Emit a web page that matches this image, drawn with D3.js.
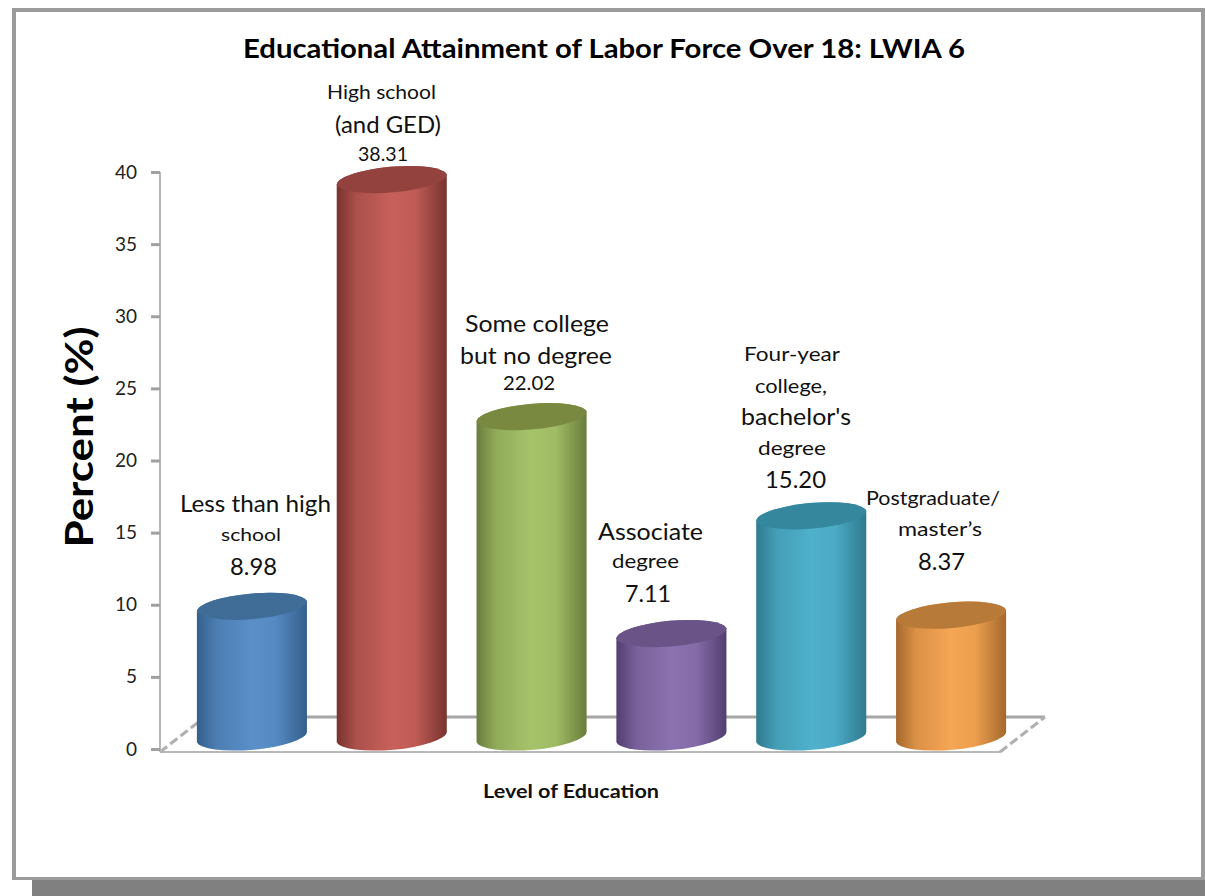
<!DOCTYPE html>
<html><head><meta charset="utf-8">
<style>html,body{margin:0;padding:0;background:#fff;overflow:hidden}svg{display:block}text{font-family:Lato,"Open Sans",sans-serif;fill:#111}</style>
<script src="https://cdn.jsdelivr.net/npm/d3@7"></script></head><body>
<svg id="c" width="1205" height="896"></svg>
<script>
const categories = ["Less than high school","High school (and GED)","Some college but no degree","Associate degree","Four-year college, bachelor's degree","Postgraduate/ master's"];
const values = [8.98,38.31,22.02,7.11,15.20,8.37];
const yTicks = [0,5,10,15,20,25,30,35,40];
const labelLines = [["Less than high","school"],["High school","(and GED)"],["Some college","but no degree"],["Associate","degree"],["Four-year","college,","bachelor's","degree"],["Postgraduate/","master’s"]];
const titleText = "Educational Attainment of Labor Force Over 18: LWIA 6";
const yTitle = "Percent (%)";
const xTitle = "Level of Education";
// layout: [center x, center y, font size, width] per text line; last entry of each group is the value label
const labelLayout = [
 [[255.5,503,23,151],[251,534,18,60],[253.5,565,24,47]],
 [[381.5,91,19,109],[388,124,23,106],[383,153,19,50]],
 [[537,322,24,144],[536,354,24,152],[529,382,19,52]],
 [[650.5,530,24,105],[645.5,560,19,67],[648,592,24,46]],
 [[792,353,19,96],[791,385,19,72],[796,415,24,110],[792,447,19,68],[795.5,478,24,61]],
 [[933,497,19,134],[940,528,19,84],[941.5,560,24,47]]
];
const palette = [
 {edge:"#345f8b",mid:"#5a8fc8",top:"#3f6d98"},
 {edge:"#78332f",mid:"#c8605a",top:"#94423e"},
 {edge:"#6a7d3c",mid:"#a6c36a",top:"#79893f"},
 {edge:"#523f70",mid:"#8c72b0",top:"#6a5487"},
 {edge:"#2f7a8e",mid:"#4fb1cc",top:"#35879d"},
 {edge:"#a5682c",mid:"#f6a654",top:"#b87a38"}
];
const svg = d3.select("#c");
const defs = svg.append("defs");
// frame and shadow
svg.append("rect").attr("x",32).attr("y",40).attr("width",1173).attr("height",856).attr("fill","#808080");
svg.append("rect").attr("x",12).attr("y",8).attr("width",1193).attr("height",872).attr("fill","#9b9b9b");
svg.append("rect").attr("x",16).attr("y",12).attr("width",1185).attr("height",865).attr("fill","#fff");

const y = d3.scaleLinear().domain([0,40]).range([749,172]);
const x = d3.scaleBand().domain(categories).range([182,1021]).paddingInner(0.213).paddingOuter(0.1065);
const barH = d3.scaleLinear().domain([0,40]).range([0,582]);
const baseY = 737, tilt = 5, ry = 13.5;

// floor
const floor = [[160,752],[1000,752],[1045,717],[205,717]];
svg.append("path").attr("d",`M${floor[0]}L${floor[1]}`).attr("stroke","#b8b8b8").attr("stroke-width",2).attr("fill","none");
svg.append("path").attr("d",`M${floor[2]}L${floor[3]}`).attr("stroke","#a6a6a6").attr("stroke-width",3).attr("fill","none");
svg.append("path").attr("d",`M${floor[1]}L${floor[2]}`).attr("stroke","#b0b0b0").attr("stroke-width",3).attr("stroke-dasharray","9 4").attr("fill","none");
svg.append("path").attr("d",`M${floor[0]}L${floor[3]}`).attr("stroke","#b0b0b0").attr("stroke-width",3).attr("stroke-dasharray","9 4").attr("fill","none");

// y axis
const ax = svg.append("g").attr("transform","translate(160,0)").call(d3.axisLeft(y).tickValues(yTicks).tickSize(9).tickPadding(14));
ax.select(".domain").attr("stroke","#b8b8b8").attr("stroke-width",2).attr("d","M0,172V752");
ax.selectAll(".tick line").attr("stroke","#a0a0a0").attr("stroke-width",3);
ax.selectAll(".tick text").style("font-family","Lato,sans-serif").style("font-size","19px").style("fill","#222");

// cylinders
const bars = svg.append("g").selectAll("g").data(values).join("g");
bars.each(function(v,i){
  const c = palette[i], g = d3.select(this);
  const id = "grad"+i;
  const gr = defs.append("linearGradient").attr("id",id).attr("x1",0).attr("x2",1).attr("y1",0).attr("y2",0);
  [[0,c.edge],[0.18,d3.interpolateRgb(c.edge,c.mid)(0.65)],[0.5,c.mid],[0.72,d3.interpolateRgb(c.edge,c.mid)(0.88)],[1,c.edge]]
    .forEach(s=>gr.append("stop").attr("offset",s[0]).attr("stop-color",s[1]));
  const x0 = x(categories[i]), w = x.bandwidth(), x1 = x0+w, rx = w/2+0.3;
  const yB = baseY, yT = baseY-barH(v);
  g.append("path").attr("fill",`url(#${id})`)
   .attr("d",`M${x0},${yT+tilt}L${x0},${yB+tilt}A${rx},${ry} -5 0 0 ${x1},${yB-tilt}L${x1},${yT-tilt}A${rx},${ry} -5 0 0 ${x0},${yT+tilt}Z`);
  g.append("path").attr("fill",c.top)
   .attr("d",`M${x0},${yT+tilt}A${rx},${ry} -5 0 1 ${x1},${yT-tilt}A${rx},${ry} -5 0 1 ${x0},${yT+tilt}Z`);
});

// labels
categories.forEach((cat,i)=>{
  const lines = labelLines[i].concat([values[i].toFixed(2)]);
  lines.forEach((t,j)=>{
    const p = labelLayout[i][j];
    svg.append("text").attr("x",p[0]).attr("y",p[1]).attr("text-anchor","middle").attr("dominant-baseline","central")
      .style("font-size",p[2]+"px").attr("textLength",p[3]).attr("lengthAdjust","spacingAndGlyphs").text(t);
  });
});

// titles
svg.append("text").attr("x",604).attr("y",48).attr("text-anchor","middle").attr("dominant-baseline","central")
  .style("font-size","26px").style("font-weight",700).style("fill","#000").attr("textLength",722).attr("lengthAdjust","spacingAndGlyphs").text(titleText);
svg.append("text").attr("transform","translate(78,437) rotate(-90)").attr("text-anchor","middle").attr("dominant-baseline","central")
  .style("font-size","39px").style("font-weight",700).style("fill","#000").attr("textLength",221).attr("lengthAdjust","spacingAndGlyphs").text(yTitle);
svg.append("text").attr("x",571).attr("y",790).attr("text-anchor","middle").attr("dominant-baseline","central")
  .style("font-size","19px").style("font-weight",700).attr("textLength",176).attr("lengthAdjust","spacingAndGlyphs").text(xTitle);
</script></body></html>
